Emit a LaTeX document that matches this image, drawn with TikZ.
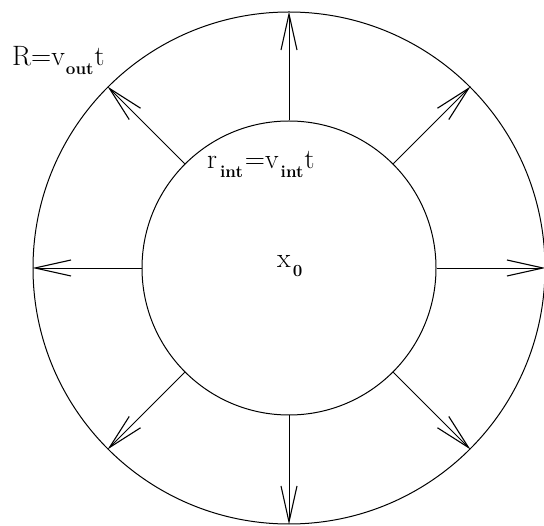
\documentclass[tikz,border=0pt]{standalone}
\usetikzlibrary{arrows.meta}
\newcommand{\sublab}[1]{\raisebox{-8.5pt}{\fontsize{17}{17}\selectfont\bfseries #1}}
\begin{document}
\begin{tikzpicture}[x=1pt,y=1pt,
  ring/.style={circle,draw,line width=1pt,inner sep=0pt},
  ray/.style={line width=0.9pt,-{Straight Barb[length=36pt,width=16pt,line width=1.1pt]}},
  lab/.style={anchor=base west,inner sep=0pt,font=\fontsize{28}{30}\selectfont}]
\useasboundingbox (0,0) rectangle (544,-526);
\node[ring,minimum size=512pt] (outer) at (289,-268) {};
\node[ring,minimum size=294pt] (inner) at (289,-268) {};
\foreach \a in {0,45,...,315} {
  \draw[ray] (inner.\a) -- (outer.\a);
}
\node[lab] (Rlab) at (12,-66) {R=v\kern1pt\sublab{out}\kern1pt t};
\node[lab] (rlab) at (207,-169) {r\kern3pt\sublab{int}\kern2pt=v\kern2pt\sublab{int}\kern1pt t};
\node[lab] (xlab) at (277,-268) {x\kern2pt\raisebox{-9pt}{\fontsize{17}{17}\selectfont\bfseries 0}};
\end{tikzpicture}
\end{document}
